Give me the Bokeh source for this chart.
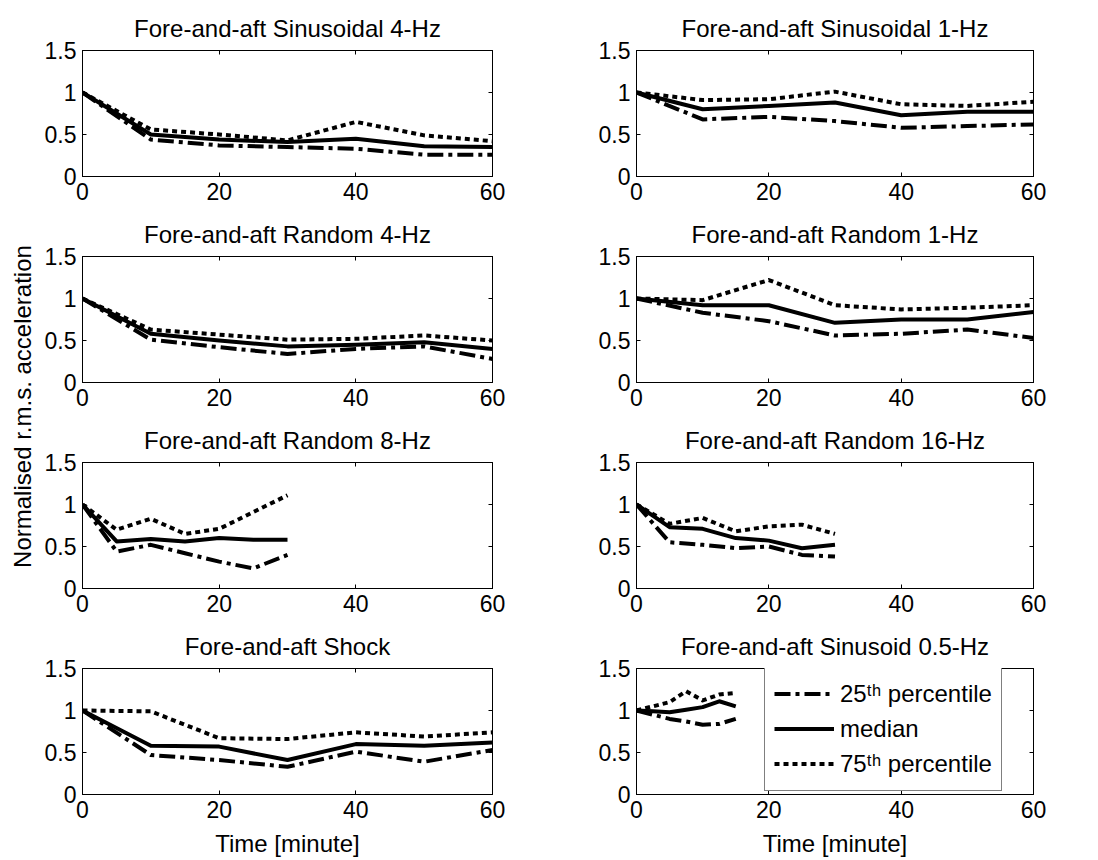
from math import pi

from bokeh.core.properties import value
from bokeh.embed import file_html
from bokeh.layouts import column, row
from bokeh.models import FixedTicker, Legend, LegendItem, LinearAxis, Range1d
from bokeh.plotting import figure
from bokeh.resources import INLINE

# ---- data: normalised r.m.s. acceleration vs. exposure time -------------
t60 = [0, 10, 20, 30, 40, 50, 60]
t30 = [0, 5, 10, 15, 20, 25, 30]
t15 = [0, 2.5, 5, 7.5, 10, 12.5, 15]

sin4_p25 = [1.0, 0.44, 0.37, 0.35, 0.33, 0.26, 0.26]
sin4_med = [1.0, 0.50, 0.44, 0.41, 0.45, 0.36, 0.35]
sin4_p75 = [1.0, 0.56, 0.50, 0.43, 0.65, 0.49, 0.42]

sin1_p25 = [1.0, 0.68, 0.71, 0.66, 0.58, 0.60, 0.62]
sin1_med = [1.0, 0.80, 0.84, 0.88, 0.73, 0.77, 0.77]
sin1_p75 = [1.0, 0.91, 0.92, 1.01, 0.86, 0.84, 0.89]

rnd4_p25 = [1.0, 0.51, 0.42, 0.34, 0.40, 0.43, 0.28]
rnd4_med = [1.0, 0.58, 0.50, 0.43, 0.45, 0.48, 0.40]
rnd4_p75 = [1.0, 0.63, 0.57, 0.51, 0.52, 0.56, 0.50]

rnd1_p25 = [1.0, 0.83, 0.73, 0.56, 0.58, 0.63, 0.53]
rnd1_med = [1.0, 0.92, 0.92, 0.71, 0.75, 0.75, 0.84]
rnd1_p75 = [1.0, 0.98, 1.22, 0.92, 0.87, 0.89, 0.92]

rnd8_p25 = [1.0, 0.44, 0.52, 0.42, 0.32, 0.24, 0.40]
rnd8_med = [1.0, 0.56, 0.59, 0.56, 0.60, 0.58, 0.58]
rnd8_p75 = [1.0, 0.70, 0.83, 0.65, 0.71, 0.91, 1.11]

rnd16_p25 = [1.0, 0.55, 0.52, 0.48, 0.50, 0.40, 0.38]
rnd16_med = [1.0, 0.73, 0.71, 0.60, 0.57, 0.48, 0.52]
rnd16_p75 = [1.0, 0.77, 0.84, 0.68, 0.74, 0.76, 0.65]

shock_p25 = [1.0, 0.47, 0.41, 0.33, 0.51, 0.39, 0.53]
shock_med = [1.0, 0.58, 0.57, 0.41, 0.60, 0.58, 0.62]
shock_p75 = [1.0, 0.99, 0.67, 0.66, 0.74, 0.69, 0.74]

sin05_p25 = [1.0, 0.95, 0.90, 0.87, 0.83, 0.84, 0.90]
sin05_med = [1.0, 0.99, 0.98, 1.01, 1.04, 1.11, 1.05]
sin05_p75 = [1.0, 1.05, 1.10, 1.23, 1.12, 1.19, 1.21]

x_ticks = [0, 20, 40, 60]
y_ticks = [0, 0.5, 1, 1.5]
y_tick_labels = ["0", "0.5", "1", "1.5"]

legend_labels = ["25\u1d57\u02b0 percentile", "median", "75\u1d57\u02b0 percentile"]
y_title = "Normalised r.m.s. acceleration"
x_title = "Time [minute]"

# ---- styling ------------------------------------------------------------
FONT = "Liberation Sans"
TICK_SIZE = "23px"
TEXT_SIZE = "24px"
LW = 4
STYLES = [
    dict(line_dash="16 5 4 5"),   # 25th percentile
    dict(line_dash="solid"),      # median
    dict(line_dash="5 4"),        # 75th percentile
]

FRAME_H = 126
TOP = 50
LEFT_COL = dict(min_border_left=42, frame_width=410, min_border_right=48)
RIGHT_COL = dict(min_border_left=96, frame_width=397, min_border_right=65)


def style_axis(ax, ticks, labels=None, hidden=False):
    ax.ticker = FixedTicker(ticks=ticks)
    ax.major_tick_in = 4
    ax.major_tick_out = 0
    ax.minor_tick_line_color = None
    ax.axis_line_color = "black"
    ax.major_tick_line_color = "black"
    ax.major_label_text_font = FONT
    ax.major_label_text_font_size = TICK_SIZE
    ax.major_label_text_color = "black"
    ax.major_label_standoff = 6
    if hidden:
        ax.major_label_overrides = {t: "" for t in ticks}
        ax.major_label_text_font_size = "1px"
        ax.major_label_standoff = 0
    elif labels is not None:
        ax.major_label_overrides = dict(zip(ticks, labels))


def panel(title, t, p25, med, p75, col, bottom, xlabel=None):
    p = figure(
        title=title,
        frame_height=FRAME_H,
        min_border_top=TOP,
        min_border_bottom=bottom,
        x_range=Range1d(0, 60),
        y_range=Range1d(0, 1.5),
        toolbar_location=None,
        output_backend="svg",
        **col,
    )
    p.grid.visible = False
    p.outline_line_color = "black"
    p.outline_line_width = 1
    p.title.text_font = FONT
    p.title.text_font_size = TEXT_SIZE
    p.title.text_font_style = "normal"
    p.title.text_color = "black"
    p.title.align = "center"
    p.title.standoff = 18

    bottom_ax = p.xaxis[0]
    style_axis(bottom_ax, x_ticks)
    style_axis(p.yaxis[0], y_ticks, y_tick_labels)
    top_ax = LinearAxis()
    style_axis(top_ax, x_ticks, hidden=True)
    p.add_layout(top_ax, "above")
    right_ax = LinearAxis()
    style_axis(right_ax, y_ticks, hidden=True)
    p.add_layout(right_ax, "right")

    if xlabel:
        bottom_ax.axis_label = xlabel
        bottom_ax.axis_label_text_font = FONT
        bottom_ax.axis_label_text_font_size = TEXT_SIZE
        bottom_ax.axis_label_text_font_style = "normal"
        bottom_ax.axis_label_text_color = "black"
        bottom_ax.axis_label_standoff = 9

    renderers = []
    for ys, st in zip([p25, med, p75], STYLES):
        r = p.line(t, ys, line_color="black", line_width=LW,
                   line_join="round", line_cap="butt", **st)
        renderers.append(r)
    return p, renderers


p1, _ = panel("Fore-and-aft Sinusoidal 4-Hz", t60, sin4_p25, sin4_med, sin4_p75, LEFT_COL, 30)
p2, _ = panel("Fore-and-aft Sinusoidal 1-Hz", t60, sin1_p25, sin1_med, sin1_p75, RIGHT_COL, 30)
p3, _ = panel("Fore-and-aft Random 4-Hz", t60, rnd4_p25, rnd4_med, rnd4_p75, LEFT_COL, 30)
p4, _ = panel("Fore-and-aft Random 1-Hz", t60, rnd1_p25, rnd1_med, rnd1_p75, RIGHT_COL, 30)
p5, _ = panel("Fore-and-aft Random 8-Hz", t30, rnd8_p25, rnd8_med, rnd8_p75, LEFT_COL, 30)
p6, _ = panel("Fore-and-aft Random 16-Hz", t30, rnd16_p25, rnd16_med, rnd16_p75, RIGHT_COL, 30)
p7, _ = panel("Fore-and-aft Shock", t60, shock_p25, shock_med, shock_p75, LEFT_COL, 64, x_title)
p8, rs = panel("Fore-and-aft Sinusoid 0.5-Hz", t15, sin05_p25, sin05_med, sin05_p75, RIGHT_COL, 64, x_title)

legend = Legend(
    items=[LegendItem(label=lab, renderers=[r]) for lab, r in zip(legend_labels, rs)],
    location=(128, 3),
    orientation="vertical",
    border_line_color="black",
    border_line_width=1,
    background_fill_color="white",
    background_fill_alpha=1.0,
    label_text_font=FONT,
    label_text_font_size=TEXT_SIZE,
    label_text_color="black",
    glyph_width=60,
    glyph_height=35,
    label_height=35,
    label_standoff=6,
    padding=9,
    spacing=0,
    margin=0,
)
p8.add_layout(legend)

# shared y-axis title in a narrow strip on the left
side = figure(width=40, height=858, x_range=Range1d(0, 40), y_range=Range1d(0, 858),
              min_border=0, toolbar_location=None, output_backend="svg")
side.axis.visible = False
side.grid.visible = False
side.outline_line_color = None
side.text(x=[22], y=[452], text=[y_title], angle=pi / 2,
          text_align="center", text_baseline="middle",
          text_font=value(FONT), text_font_size=TEXT_SIZE, text_color="black")

grid = column(row(p1, p2), row(p3, p4), row(p5, p6), row(p7, p8))
layout = row(side, grid)

open("out.html", "w").write(file_html(layout, INLINE))
